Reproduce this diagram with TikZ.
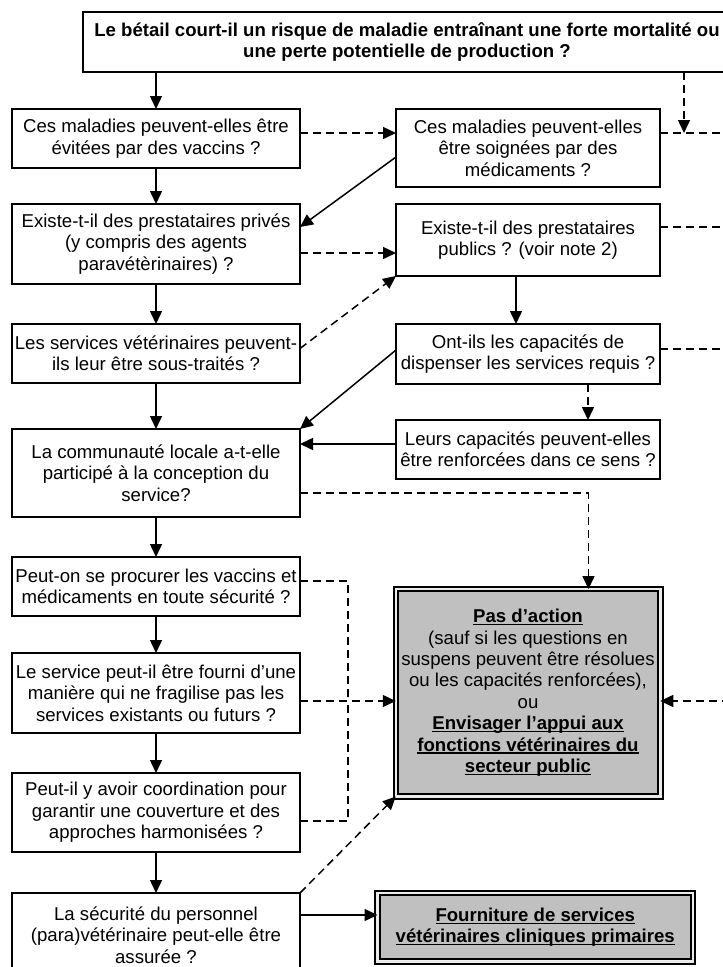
\documentclass[tikz,border=0pt]{standalone}
\usepackage{fontspec}
\setmainfont{Liberation Sans}
\usetikzlibrary{arrows.meta,positioning}
\definecolor{actgray}{HTML}{C0C0C0}
\newcommand{\undl}[1]{\setbox0\hbox{#1}\rlap{\rule[-2.6pt]{\wd0}{1.3pt}}\box0}

\begin{document}
\begin{tikzpicture}[
  x=1pt, y=-1pt,
  node distance=40pt,
  q/.style={rectangle, draw, line width=1.5pt, outer sep=0pt, align=center, inner sep=2pt, minimum width=288pt, minimum height=59pt, font=\fontsize{18.6}{21.4}\selectfont},
  qr/.style={q, minimum width=264pt},
  act/.style={q, fill=actgray, line width=2pt, double=black!8, double distance=2.5pt},
  arr/.style={-{Triangle[length=13pt,width=12pt]}, line width=1.5pt},
  darr/.style={arr, dash pattern=on 8pt off 5pt},
  dline/.style={line width=1.5pt, dash pattern=on 8pt off 5pt}
]
\useasboundingbox (0,0) rectangle (723,967);
\clip (0,0) rectangle (723,967);
\node[q, minimum width=648pt, minimum height=60pt, font=\fontsize{18.6}{21.4}\selectfont\bfseries] (top) at (407,42) {Le bétail court-il un risque de maladie entraînant une forte mortalité ou\\une perte potentielle de production ?};
\node[q, anchor=north west] (b1) at (12,109) {Ces maladies peuvent-elles être\\évitées par des vaccins ?};
\node[q, below=36pt of b1, minimum height=80pt] (b3) {Existe-t-il des prestataires privés\\(y compris des agents\\paravétèrinaires) ?};
\node[q, below=of b3] (b5) {Les services vétérinaires peuvent-\\ils leur être sous-traités ?};
\node[q, below=46pt of b5, minimum height=88pt] (b8) {La communauté locale a-t-elle\\participé à la conception du\\service?};
\node[q, below=of b8] (b9) {Peut-on se procurer les vaccins et\\médicaments en toute sécurité ?};
\node[q, below=37pt of b9, minimum height=80pt] (b10) {Le service peut-il être fourni d’une\\manière qui ne fragilise pas les\\services existants ou futurs ?};
\node[q, below=of b10, minimum height=79pt] (b11) {Peut-il y avoir coordination pour\\garantir une couverture et des\\approches harmonisées ?};
\node[q, below=41pt of b11, minimum height=84pt] (b12) {La sécurité du personnel\\(para)vétérinaire peut-elle être\\assurée ?};
\node[qr, right=96pt of b1.north east, anchor=north west, minimum height=78pt] (b2) {Ces maladies peuvent-elles\\être soignées par des\\médicaments ?};
\node[qr, right=96pt of b3.north east, anchor=north west, minimum height=72pt] (b4) {Existe-t-il des prestataires\\publics ? (voir note 2)};
\node[qr, right=96pt of b5.north east, anchor=north west, minimum height=60pt] (b6) {Ont-ils les capacités de\\dispenser les services requis ?};
\node[qr, below=36pt of b6] (b7) {Leurs capacités peuvent-elles\\être renforcées dans ce sens ?};
\node[act, below=110pt of b7, minimum width=264.5pt, minimum height=207.5pt] (pas) {\undl{\textbf{Pas d’action}}\\(sauf si les questions en\\suspens peuvent être résolues\\ou les capacités renforcées),\\ou\\\undl{\textbf{Envisager l’appui aux}}\\\undl{\textbf{fonctions vétérinaires du}}\\\undl{\textbf{secteur public}}};
\node[act, right=77.5pt of b12.north east, anchor=north west, minimum width=315.5pt, minimum height=68.5pt, font=\fontsize{18.6}{21.4}\selectfont\bfseries] (fourn) {\undl{Fourniture de services}\\\undl{vétérinaires cliniques primaires}};
\coordinate (l1) at (684,133);
\coordinate (o1) at (730,133);
\coordinate (o2) at (730,227);
\coordinate (o3) at (730,349);
\coordinate (o4) at (730,701);
\coordinate (jn) at (348,701);
\draw[arr] (top.south -| b1) -- (b1);
\draw[darr] (top.south -| l1) -- (l1);
\draw[darr] (b1.east |- l1) -- (b2.west |- l1);
\draw[dline] (b2.east |- l1) -- (o1);
\draw[arr] (b1) -- (b3);
\draw[arr] ([yshift=-9pt]b2.west) -- ([yshift=17pt]b3.east);
\draw[darr] ([yshift=-9pt]b3.east) -- ([yshift=-9pt]b3.east -| b4.west);
\draw[dline] (b4.east |- o2) -- (o2);
\draw[arr] (b3) -- (b5);
\draw[darr] ([yshift=5pt]b5.east) -- (b4.south west);
\draw[arr] ([xshift=-12pt]b4.south) -- ([xshift=-12pt]b6.north);
\draw[dline] (b6.east |- o3) -- (o3);
\draw[arr] ([yshift=4pt]b6.west) -- (b8.north east);
\draw[darr] ([xshift=60pt]b6.south) -- ([xshift=60pt]b7.north);
\draw[arr] ([yshift=5.5pt]b7.west) -- ([yshift=5.5pt]b7.west -| b8.east);
\draw[arr] (b5) -- (b8);
\draw[darr] ([yshift=-20pt]b8.east) -| ([xshift=60.5pt]pas.north);
\draw[arr] (b8) -- (b9);
\draw[arr] (b9) -- (b10);
\draw[arr] (b10) -- (b11);
\draw[arr] (b11) -- (b12);
\draw[dline] ([yshift=5.5pt]b9.east) -| (jn);
\draw[dline] ([yshift=-8.5pt]b11.east) -| (jn);
\draw[darr] (b10.east |- jn) -- (pas.west |- jn);
\draw[darr] (o4) -- (pas.east |- o4);
\draw[darr] (b12.north east) -- (pas.south west);
\draw[arr] ([yshift=-22pt]b12.north east) -- ([yshift=-22pt]b12.north east -| fourn.west);
\end{tikzpicture}
\end{document}
